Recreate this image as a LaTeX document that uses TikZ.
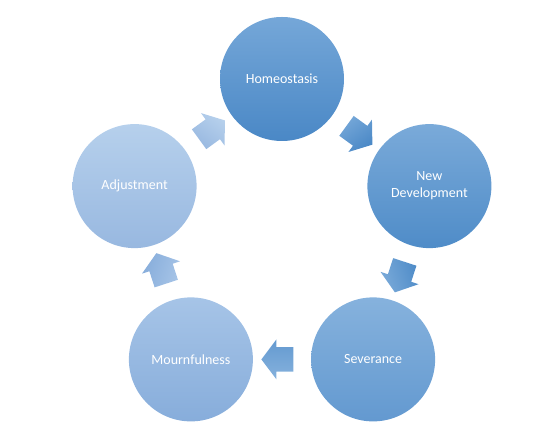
\documentclass[tikz,border=0pt]{standalone}
\usepackage{fontspec}
\setmainfont{Carlito}
\usepackage{tikz}
\usetikzlibrary{calc, positioning, shapes.arrows, backgrounds}
\definecolor{homeTop}{HTML}{75A7D8}
\definecolor{homeBot}{HTML}{4A88C6}
\definecolor{newTop}{HTML}{7AAAD9}
\definecolor{newBot}{HTML}{4F8CC8}
\definecolor{sevTop}{HTML}{86B2DD}
\definecolor{sevBot}{HTML}{6399D0}
\definecolor{mouTop}{HTML}{A6C4E7}
\definecolor{mouBot}{HTML}{87ADDB}
\definecolor{adjTop}{HTML}{B6D0EC}
\definecolor{adjBot}{HTML}{98B8E0}
\tikzstyle{stage}=[inner sep=2pt, shape=circle, minimum size=124bp, text=white, font=\fontsize{14bp}{17bp}\selectfont, align=center]
\tikzstyle{turn}=[shape=single arrow, inner xsep=0pt, inner ysep=11bp, minimum height=32bp, minimum width=40bp, single arrow tip angle=106, single arrow head indent=0pt]

\begin{document}
\begin{tikzpicture}[x=1bp, y=1bp]
\useasboundingbox (-282,-210) rectangle (266,234);
% the five stages
\node[stage, top color=homeTop, bottom color=homeBot] (H) at (90: 155) {Homeostasis};
\node[stage, top color=newTop, bottom color=newBot] (N) at (18: 155) {New\\Development};
\node[stage, top color=sevTop, bottom color=sevBot] (S) at (-54: 155) {Severance};
\node[stage, top color=mouTop, bottom color=mouBot] (M) at (234: 155) {Mournfulness};
\node[stage, top color=adjTop, bottom color=adjBot] (A) at (162: 155) {Adjustment};
% the block arrows between them
\node[turn, top color=homeTop, bottom color=homeBot, shading angle=36, rotate=-36] (HN) at ($(H)!0.5!(N)$) {};
\node[turn, top color=newTop, bottom color=newBot, shading angle=108, rotate=-108] (NS) at ($(N)!0.5!(S)$) {};
\node[turn, top color=sevTop, bottom color=sevBot, shading angle=180, rotate=180] (SM) at ($(S)!0.5!(M)$) {};
\node[turn, top color=mouTop, bottom color=mouBot, shading angle=-108, rotate=108] (MA) at ($(M)!0.5!(A)$) {};
\node[turn, top color=adjTop, bottom color=adjBot, shading angle=-36, rotate=36] (AH) at ($(A)!0.5!(H)$) {};
\end{tikzpicture}
\end{document}
